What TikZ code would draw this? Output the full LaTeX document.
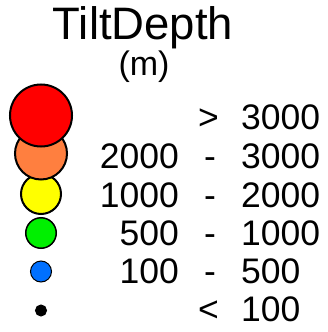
\documentclass[tikz,border=0pt]{standalone}
\usepackage{fontspec}
\setmainfont{Liberation Sans}
\definecolor{cRed}{RGB}{255,0,0}
\definecolor{cOrange}{RGB}{255,127,63}
\definecolor{cYellow}{RGB}{255,255,0}
\definecolor{cGreen}{RGB}{0,240,0}
\definecolor{cBlue}{RGB}{0,112,255}
\tikzset{
  dot/.style={circle, draw=black, inner sep=0pt, line width=2pt},
  lbl/.style={inner sep=0pt, font=\fontsize{35.5}{40}\selectfont},
}
\begin{document}
\begin{tikzpicture}[x=1pt,y=-1pt]
\useasboundingbox (0,0) rectangle (328,332);
\node[inner sep=0pt, anchor=base, font=\fontsize{45.5}{54}\selectfont] (title) at (143,39) {TiltDepth};
\node[inner sep=0pt, anchor=base, font=\fontsize{34}{40}\selectfont] (unit) at (144,75.5) {(m)};
% circles, smallest first so larger ones overlap
\node[dot, fill=black, minimum size=11pt, line width=1pt] (c6) at (41,310.5) {};
\node[dot, fill=cBlue, minimum size=21pt, line width=1pt] (c5) at (41,271.5) {};
\node[dot, fill=cGreen, minimum size=30.5pt, line width=1.5pt] (c4) at (41,233) {};
\node[dot, fill=cYellow, minimum size=40pt] (c3) at (41,194) {};
\node[dot, fill=cOrange, minimum size=52pt] (c2) at (41,153.5) {};
\node[dot, fill=cRed, minimum size=62pt] (c1) at (41,115.5) {};
% labels
\node[lbl, anchor=base] (s1) at (208.5,129) {>};
\node[lbl, anchor=base west] (h1) at (241,129) {3000};
\node[lbl, anchor=base east] (l2) at (179,168) {2000};
\node[lbl, anchor=base] (s2) at (210,168) {-};
\node[lbl, anchor=base west] (h2) at (241,168) {3000};
\node[lbl, anchor=base east] (l3) at (179,207) {1000};
\node[lbl, anchor=base] (s3) at (210,207) {-};
\node[lbl, anchor=base west] (h3) at (241,207) {2000};
\node[lbl, anchor=base east] (l4) at (179,245.5) {500};
\node[lbl, anchor=base] (s4) at (210,245.5) {-};
\node[lbl, anchor=base west] (h4) at (241,245.5) {1000};
\node[lbl, anchor=base east] (l5) at (179,283.5) {100};
\node[lbl, anchor=base] (s5) at (210,283.5) {-};
\node[lbl, anchor=base west] (h5) at (241,283.5) {500};
\node[lbl, anchor=base] (s6) at (208.5,321) {<};
\node[lbl, anchor=base west] (h6) at (241,321) {100};
\end{tikzpicture}
\end{document}
